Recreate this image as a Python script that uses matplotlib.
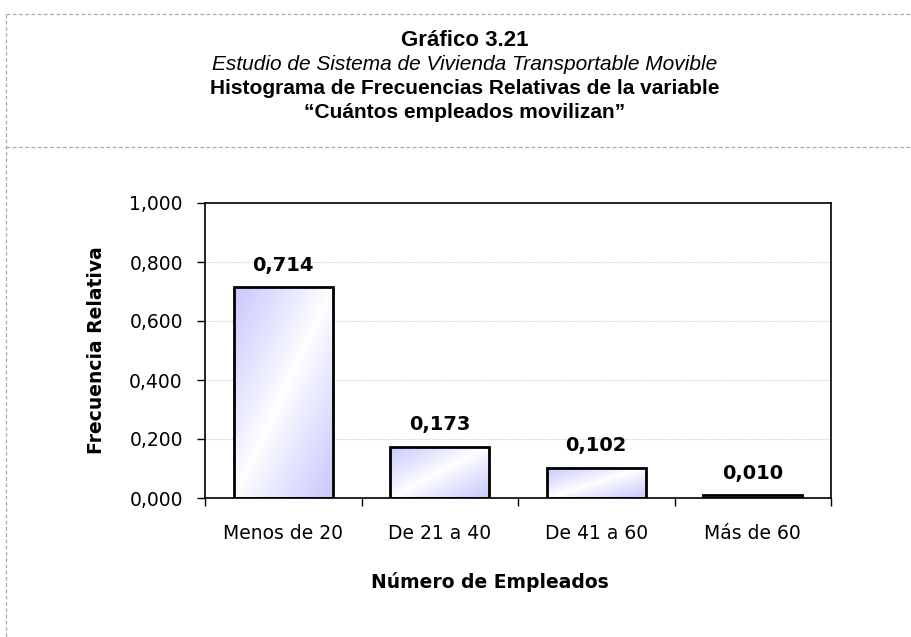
import matplotlib
matplotlib.use("Agg")
import matplotlib.pyplot as plt
import numpy as np
from matplotlib.lines import Line2D
from matplotlib.ticker import FuncFormatter, MultipleLocator

categorias = ["Menos de 20", "De 21 a 40", "De 41 a 60", "Más de 60"]
frecuencias = [0.714, 0.173, 0.102, 0.010]
titulo_1 = "Gráfico 3.21"
titulo_2 = "Estudio de Sistema de Vivienda Transportable Movible"
titulo_3 = "Histograma de Frecuencias Relativas de la variable"
titulo_4 = "“Cuántos empleados movilizan”"

W, H = 911, 637
fig = plt.figure(figsize=(W / 100, H / 100), dpi=100)
ax = fig.add_axes([205 / W, 1 - 498 / H, (831 - 205) / W, (498 - 203) / H])


def fx(px):
    return px / W


def fy(py):
    return 1 - py / H


# dashed frame around the chart
borde = dict(color="#a8a8a8", lw=0.9, ls=(0, (3, 2)), transform=fig.transFigure)
fig.add_artist(Line2D([fx(6), 1], [fy(14), fy(14)], **borde))
fig.add_artist(Line2D([fx(6), fx(6)], [fy(14), 0], **borde))
fig.add_artist(Line2D([fx(6), 1], [fy(147), fy(147)], **borde))

cx = fx(465)
tit = dict(ha="center", va="center", family="Liberation Sans", fontsize=15)
fig.text(cx, fy(40), titulo_1, weight="bold", **dict(tit, fontsize=16))
fig.text(cx, fy(64), titulo_2, style="italic", **tit)
fig.text(cx, fy(88), titulo_3, weight="bold", **tit)
fig.text(cx, fy(112), titulo_4, weight="bold", **tit)

x = np.arange(len(categorias))
ancho = 0.63
barras = ax.bar(x, frecuencias, width=ancho, facecolor="none", edgecolor="black",
                linewidth=2, zorder=3)

# diagonal gradient: blue at top-left and bottom-right, white along the diagonal
n = 200
u, v = np.meshgrid(np.linspace(0, 1, n), np.linspace(1, 0, n))
t = np.abs(u - v) ** 0.9
azul = np.array([200, 200, 255]) / 255
img = np.ones((n, n, 3)) * (1 - t[..., None]) + azul * t[..., None]
for b in barras:
    x0, y0 = b.get_x(), b.get_y()
    im = ax.imshow(img, extent=[x0, x0 + b.get_width(), y0, y0 + b.get_height()],
                   aspect="auto", zorder=2, interpolation="bilinear")
    im.set_clip_path(b)

for xi, val in zip(x, frecuencias):
    ax.annotate(f"{val:.3f}".replace(".", ","), (xi, val), xytext=(0, 9),
                textcoords="offset points", ha="center", va="bottom",
                weight="bold", fontsize=14, family="DejaVu Sans")

ax.set_xlim(-0.5, len(categorias) - 0.5)
ax.set_ylim(0, 1)
ax.yaxis.set_major_locator(MultipleLocator(0.2))
ax.yaxis.set_major_formatter(FuncFormatter(lambda v, p: f"{v:.3f}".replace(".", ",")))
ax.set_xticks(x)
ax.set_xticklabels(categorias)
ax.set_xticks(np.arange(-0.5, len(categorias)), minor=True)
ax.tick_params(axis="x", which="major", length=0, pad=19, labelsize=13.5)
ax.tick_params(axis="x", which="minor", length=6, width=1, direction="out")
ax.tick_params(axis="y", length=6, width=1, direction="out", pad=10, labelsize=13.5)
ax.grid(axis="y", color="#d0d0d0", ls=(0, (1, 1)), lw=0.8, zorder=0)
for s in ax.spines.values():
    s.set_color("black")
    s.set_linewidth(1.2)

fig.text(fx(97), fy(350), "Frecuencia Relativa", rotation=90, ha="center", va="center",
         weight="bold", fontsize=13.5)
fig.text(fx(490), fy(582), "Número de Empleados", ha="center", va="center",
         weight="bold", fontsize=13.5)

fig.savefig("out.png", dpi=100)
